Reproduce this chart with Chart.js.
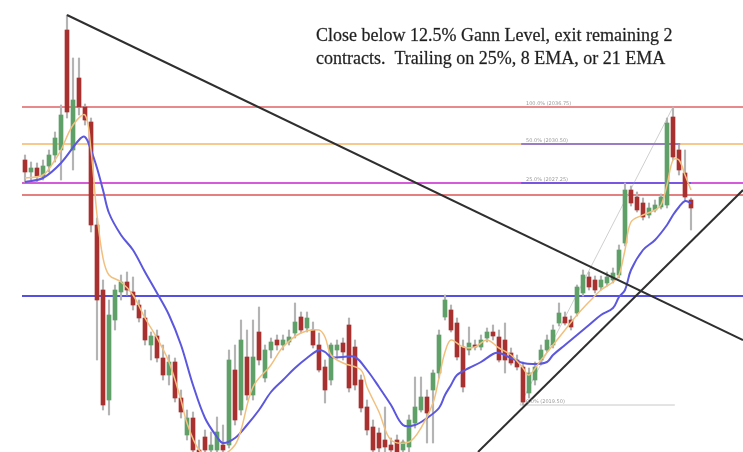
<!DOCTYPE html>
<html>
<head>
<meta charset="utf-8">
<script src="https://cdn.jsdelivr.net/npm/chart.js@4.4.1/dist/chart.umd.min.js"></script>
<style>
  html, body { margin: 0; padding: 0; background: #ffffff; }
  #wrap { width: 743px; height: 452px; position: relative; }
</style>
</head>
<body>
<div id="wrap"><canvas id="gann"></canvas></div>
<script>
// candle OHLC, one entry per bar
var opens  = [292,280,284,276,286,297,302,422,302,374,345,330,227,162,52,132,160,170,160,147,134,107,116,94,77,90,54,17,34,2,15,2,2,7,7,82,42,95,57,120,74,102,112,107,110,119,135,124,122,107,85,72,102,109,127,105,72,45,25,19,12,7,12,2,5,29,42,55,62,79,135,142,129,105,102,107,105,114,120,115,112,99,92,85,59,72,92,102,107,129,135,132,139,159,175,172,165,169,172,177,209,262,255,249,237,242,245,247,335,302,279,252];
var highs  = [297,290,289,292,302,320,347,437,394,394,348,334,234,172,152,167,177,180,175,152,142,120,122,107,97,94,62,42,40,12,22,20,35,27,102,107,132,122,132,145,107,114,117,117,122,149,140,140,130,119,92,109,112,114,134,112,77,52,32,24,45,14,17,12,37,75,75,62,82,122,157,147,134,112,125,112,117,124,127,122,129,104,97,90,84,90,107,117,127,149,140,136,167,182,180,176,176,180,184,207,269,266,260,254,249,252,258,334,345,307,302,254];
var lows   = [270,272,270,272,280,290,272,334,282,337,327,220,92,42,37,122,152,157,142,130,107,92,90,72,67,50,34,12,0,-8,-3,-8,-3,-8,4,27,37,52,52,87,70,94,102,102,107,114,119,120,104,80,49,67,94,92,60,62,40,17,-3,-3,-3,-6,-3,-6,0,24,40,9,9,74,132,120,92,60,97,102,102,110,112,90,79,87,82,47,54,67,87,100,104,126,127,122,136,156,162,159,162,166,169,174,206,246,240,232,234,240,243,244,292,277,252,222];
var closes = [280,284,276,286,297,314,337,340,352,345,332,227,152,47,137,162,170,162,147,134,112,116,94,77,90,54,40,34,2,-3,2,7,20,2,92,32,112,57,95,92,102,110,107,112,115,130,122,134,107,82,62,107,107,100,64,67,44,22,2,4,5,2,0,10,32,45,55,39,79,117,152,122,95,65,109,105,112,120,116,92,92,89,85,50,79,85,102,112,122,139,129,125,165,177,165,162,172,175,179,202,262,249,242,235,244,247,255,329,295,282,255,244];

// 21 EMA (blue), read at some bars
var ema21Bar = [0,3,6,9,10,11,12,13,14,16,18,20,22,24,26,28,30,32,33,35,37,39,41,43,45,47,49,50,51,53,55,57,59,61,63,65,67,69,70,71,72,74,76,78,79,81,83,85,87,88,90,92,94,96,98,99,100,101,103,105,107,108,109,110,111];
var ema21Val = [270,274,289,312,315,302,284,262,239,217,202,180,159,137,107,67,34,15,9,14,27,42,60,72,84,94,102,100,95,95,95,82,65,47,27,27,34,44,57,67,77,84,90,98,99,94,89,88,90,97,107,117,127,137,144,155,162,182,202,212,227,237,245,251,249];

// 8 EMA (tan), read at some bars
var ema8Bar = [0,3,5,6,8,10,11,12,13,14,16,18,20,22,24,26,27,29,31,33,35,36,38,41,43,46,49,50,51,53,56,57,59,61,64,66,68,69,70,71,73,75,77,79,81,83,84,86,88,90,92,94,96,98,99,100,101,103,105,106,107,108,109,110,111];
var ema8Val = [274,277,292,302,327,337,302,237,194,177,170,157,134,114,90,52,29,2,-5,-3,7,22,65,87,105,119,122,115,97,89,82,65,40,12,10,24,49,74,100,112,105,105,112,104,97,84,77,92,107,122,137,150,162,170,177,202,230,237,242,247,267,292,292,277,262];

// Gann levels (horizontal lines across the chart)
var levelVals   = [345, 308, 269, 257, 156];
var levelColors = ["#e8898c", "#f7c98c", "#d65bd8", "#e48080", "#5650e2"];

// fib tool drawn on the last swing (low -> high)
var swingBars = [82.5, 108];
var swingVals = [47, 345];
var fibVals   = [345, 308, 269, 47];
var fibLabels = ["100.0% (2036.75)", "50.0% (2030.50)", "25.0% (2027.25)", "0.0% (2019.50)"];

// trendlines
var downTrend = [{x: 7, y: 437}, {x: 119.67, y: 112}];
var upTrend   = [{x: 75.5, y: 0}, {x: 119.67, y: 262}];

var X_MIN = -4.1667, X_MAX = 119.667;

var wickData = [], bodyData = [], bodyColors = [];
for (var i = 0; i < closes.length; i++) {
  wickData.push({x: i, y: [lows[i], highs[i]]});
  bodyData.push({x: i, y: [opens[i], closes[i]]});
  bodyColors.push(closes[i] >= opens[i] ? "#5f9f68" : "#a8302f");
}

function pts(xs, ys) {
  return xs.map(function (x, k) { return {x: x, y: ys[k]}; });
}

var datasets = [];

levelVals.forEach(function (v, k) {
  datasets.push({
    type: "line", data: [{x: -0.5, y: v}, {x: X_MAX, y: v}],
    borderColor: levelColors[k], borderWidth: 2, pointRadius: 0, order: 5
  });
});

// fib overlay segments
datasets.push({type: "line", data: [{x: 82.7, y: 308}, {x: 109.2, y: 308}], borderColor: "#7b62d6", borderWidth: 1.5, pointRadius: 0, order: 4});
datasets.push({type: "line", data: [{x: 82.7, y: 269}, {x: 111, y: 269}], borderColor: "#5a55e6", borderWidth: 1.5, pointRadius: 0, order: 4});
datasets.push({type: "line", data: [{x: 82.5, y: 47}, {x: 108.3, y: 47}], borderColor: "#c8c8c8", borderWidth: 1, pointRadius: 0, order: 4});
datasets.push({type: "line", data: pts(swingBars, swingVals), borderColor: "#cfcfcf", borderWidth: 1, pointRadius: 0, order: 4});

datasets.push({
  type: "bar", data: wickData, backgroundColor: "#b4b4b4",
  barThickness: 1.5, grouped: false, order: 3
});
datasets.push({
  type: "bar", data: bodyData, backgroundColor: bodyColors,
  barThickness: 4, grouped: false, order: 2
});

datasets.push({type: "line", data: pts(ema8Bar, ema8Val), borderColor: "#f1c07e", borderWidth: 1.5, pointRadius: 0, tension: 0.35, order: 1});
datasets.push({type: "line", data: pts(ema21Bar, ema21Val), borderColor: "#5b57de", borderWidth: 2, pointRadius: 0, tension: 0.35, order: 1});

datasets.push({type: "line", data: downTrend, borderColor: "#2f2f2f", borderWidth: 2, pointRadius: 0, order: 0});
datasets.push({type: "line", data: upTrend, borderColor: "#2f2f2f", borderWidth: 2, pointRadius: 0, order: 0});

// note text and fib labels
var notes = {
  id: "notes",
  afterDraw: function (chart) {
    var ctx = chart.ctx, xs = chart.scales.x, ys = chart.scales.y;
    ctx.save();
    ctx.fillStyle = "#1f1f1f";
    ctx.strokeStyle = "rgba(31,31,31,0.6)";
    ctx.lineWidth = 0.4;
    ctx.font = "18px 'Liberation Serif', serif";
    ctx.textBaseline = "alphabetic";
    var l1 = "Close below 12.5% Gann Level, exit remaining 2";
    var l2 = "contracts.  Trailing on 25%, 8 EMA, or 21 EMA";
    ctx.fillText(l1, 316, 41);
    ctx.strokeText(l1, 316, 41);
    ctx.fillText(l2, 316, 64);
    ctx.strokeText(l2, 316, 64);
    ctx.fillStyle = "#9a9a9a";
    ctx.font = "5px 'DejaVu Sans', sans-serif";
    fibVals.forEach(function (v, k) {
      ctx.fillText(fibLabels[k], xs.getPixelForValue(83.5), ys.getPixelForValue(v) - 2);
    });
    ctx.restore();
  }
};

new Chart(document.getElementById("gann"), {
  type: "bar",
  data: {datasets: datasets},
  options: {
    responsive: true,
    maintainAspectRatio: false,
    animation: false,
    layout: {padding: 0},
    plugins: {legend: {display: false}, tooltip: {enabled: false}},
    scales: {
      x: {type: "linear", min: X_MIN, max: X_MAX, offset: false, display: false},
      y: {min: 0, max: 452, display: false}
    }
  },
  plugins: [notes]
});
</script>
</body>
</html>
